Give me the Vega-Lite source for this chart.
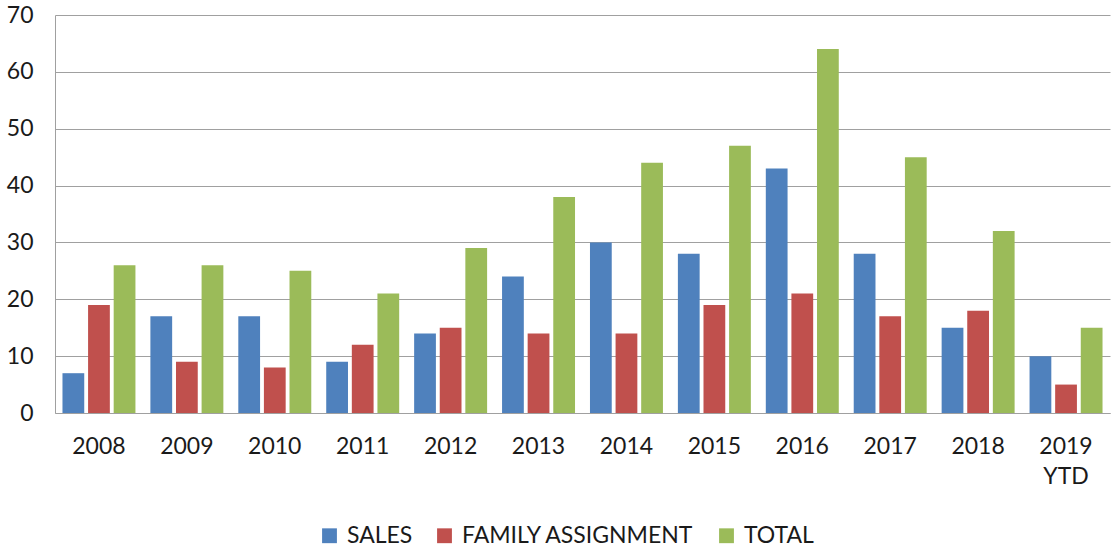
{
  "$schema": "https://vega.github.io/schema/vega-lite/v6.json",
  "width": 1055,
  "height": 398,
  "autosize": {"type": "none"},
  "padding": {"left": 55, "top": 15, "right": 2, "bottom": 137},
  "config": {
    "font": "Lato",
    "view": {"stroke": null},
    "axis": {"labelFont": "Lato", "labelFontSize": 23, "labelColor": "#1a1a1a"},
    "legend": {"labelFont": "Lato", "labelFontSize": 23, "labelColor": "#1a1a1a"}
  },
  "data": {
    "values": [
      {"year": "2008", "series": "SALES", "value": 7},
      {"year": "2008", "series": "FAMILY ASSIGNMENT", "value": 19},
      {"year": "2008", "series": "TOTAL", "value": 26},
      {"year": "2009", "series": "SALES", "value": 17},
      {"year": "2009", "series": "FAMILY ASSIGNMENT", "value": 9},
      {"year": "2009", "series": "TOTAL", "value": 26},
      {"year": "2010", "series": "SALES", "value": 17},
      {"year": "2010", "series": "FAMILY ASSIGNMENT", "value": 8},
      {"year": "2010", "series": "TOTAL", "value": 25},
      {"year": "2011", "series": "SALES", "value": 9},
      {"year": "2011", "series": "FAMILY ASSIGNMENT", "value": 12},
      {"year": "2011", "series": "TOTAL", "value": 21},
      {"year": "2012", "series": "SALES", "value": 14},
      {"year": "2012", "series": "FAMILY ASSIGNMENT", "value": 15},
      {"year": "2012", "series": "TOTAL", "value": 29},
      {"year": "2013", "series": "SALES", "value": 24},
      {"year": "2013", "series": "FAMILY ASSIGNMENT", "value": 14},
      {"year": "2013", "series": "TOTAL", "value": 38},
      {"year": "2014", "series": "SALES", "value": 30},
      {"year": "2014", "series": "FAMILY ASSIGNMENT", "value": 14},
      {"year": "2014", "series": "TOTAL", "value": 44},
      {"year": "2015", "series": "SALES", "value": 28},
      {"year": "2015", "series": "FAMILY ASSIGNMENT", "value": 19},
      {"year": "2015", "series": "TOTAL", "value": 47},
      {"year": "2016", "series": "SALES", "value": 43},
      {"year": "2016", "series": "FAMILY ASSIGNMENT", "value": 21},
      {"year": "2016", "series": "TOTAL", "value": 64},
      {"year": "2017", "series": "SALES", "value": 28},
      {"year": "2017", "series": "FAMILY ASSIGNMENT", "value": 17},
      {"year": "2017", "series": "TOTAL", "value": 45},
      {"year": "2018", "series": "SALES", "value": 15},
      {"year": "2018", "series": "FAMILY ASSIGNMENT", "value": 18},
      {"year": "2018", "series": "TOTAL", "value": 32},
      {"year": "2019 YTD", "series": "SALES", "value": 10},
      {"year": "2019 YTD", "series": "FAMILY ASSIGNMENT", "value": 5},
      {"year": "2019 YTD", "series": "TOTAL", "value": 15}
    ]
  },
  "mark": {"type": "bar"},
  "encoding": {
    "x": {
      "field": "year",
      "type": "nominal",
      "sort": null,
      "scale": {"paddingInner": 0.17, "paddingOuter": 0.085},
      "axis": {
        "title": null,
        "labelAngle": 0,
        "ticks": false,
        "domainColor": "#a0a0a0",
        "labelPadding": 22,
        "labelLineHeight": 30,
        "labelExpr": "split(datum.label, ' ')"
      }
    },
    "xOffset": {
      "field": "series",
      "type": "nominal",
      "sort": ["SALES", "FAMILY ASSIGNMENT", "TOTAL"],
      "scale": {"paddingInner": 0.15, "paddingOuter": 0}
    },
    "y": {
      "field": "value",
      "type": "quantitative",
      "scale": {"domain": [0, 70], "nice": false},
      "axis": {
        "title": null,
        "values": [0, 10, 20, 30, 40, 50, 60, 70],
        "ticks": false,
        "domainColor": "#a0a0a0",
        "gridColor": "#a0a0a0",
        "labelPadding": 22
      }
    },
    "color": {
      "field": "series",
      "type": "nominal",
      "scale": {
        "domain": ["SALES", "FAMILY ASSIGNMENT", "TOTAL"],
        "range": ["#4F81BD", "#C0504D", "#9BBB59"]
      },
      "legend": {
        "title": null,
        "orient": "none",
        "direction": "horizontal",
        "legendX": 263,
        "legendY": 509,
        "symbolType": "square",
        "symbolSize": 220,
        "symbolStrokeWidth": 0,
        "symbolOpacity": 1,
        "columnPadding": 20,
        "labelOffset": 6,
        "labelLimit": 400
      }
    }
  }
}
